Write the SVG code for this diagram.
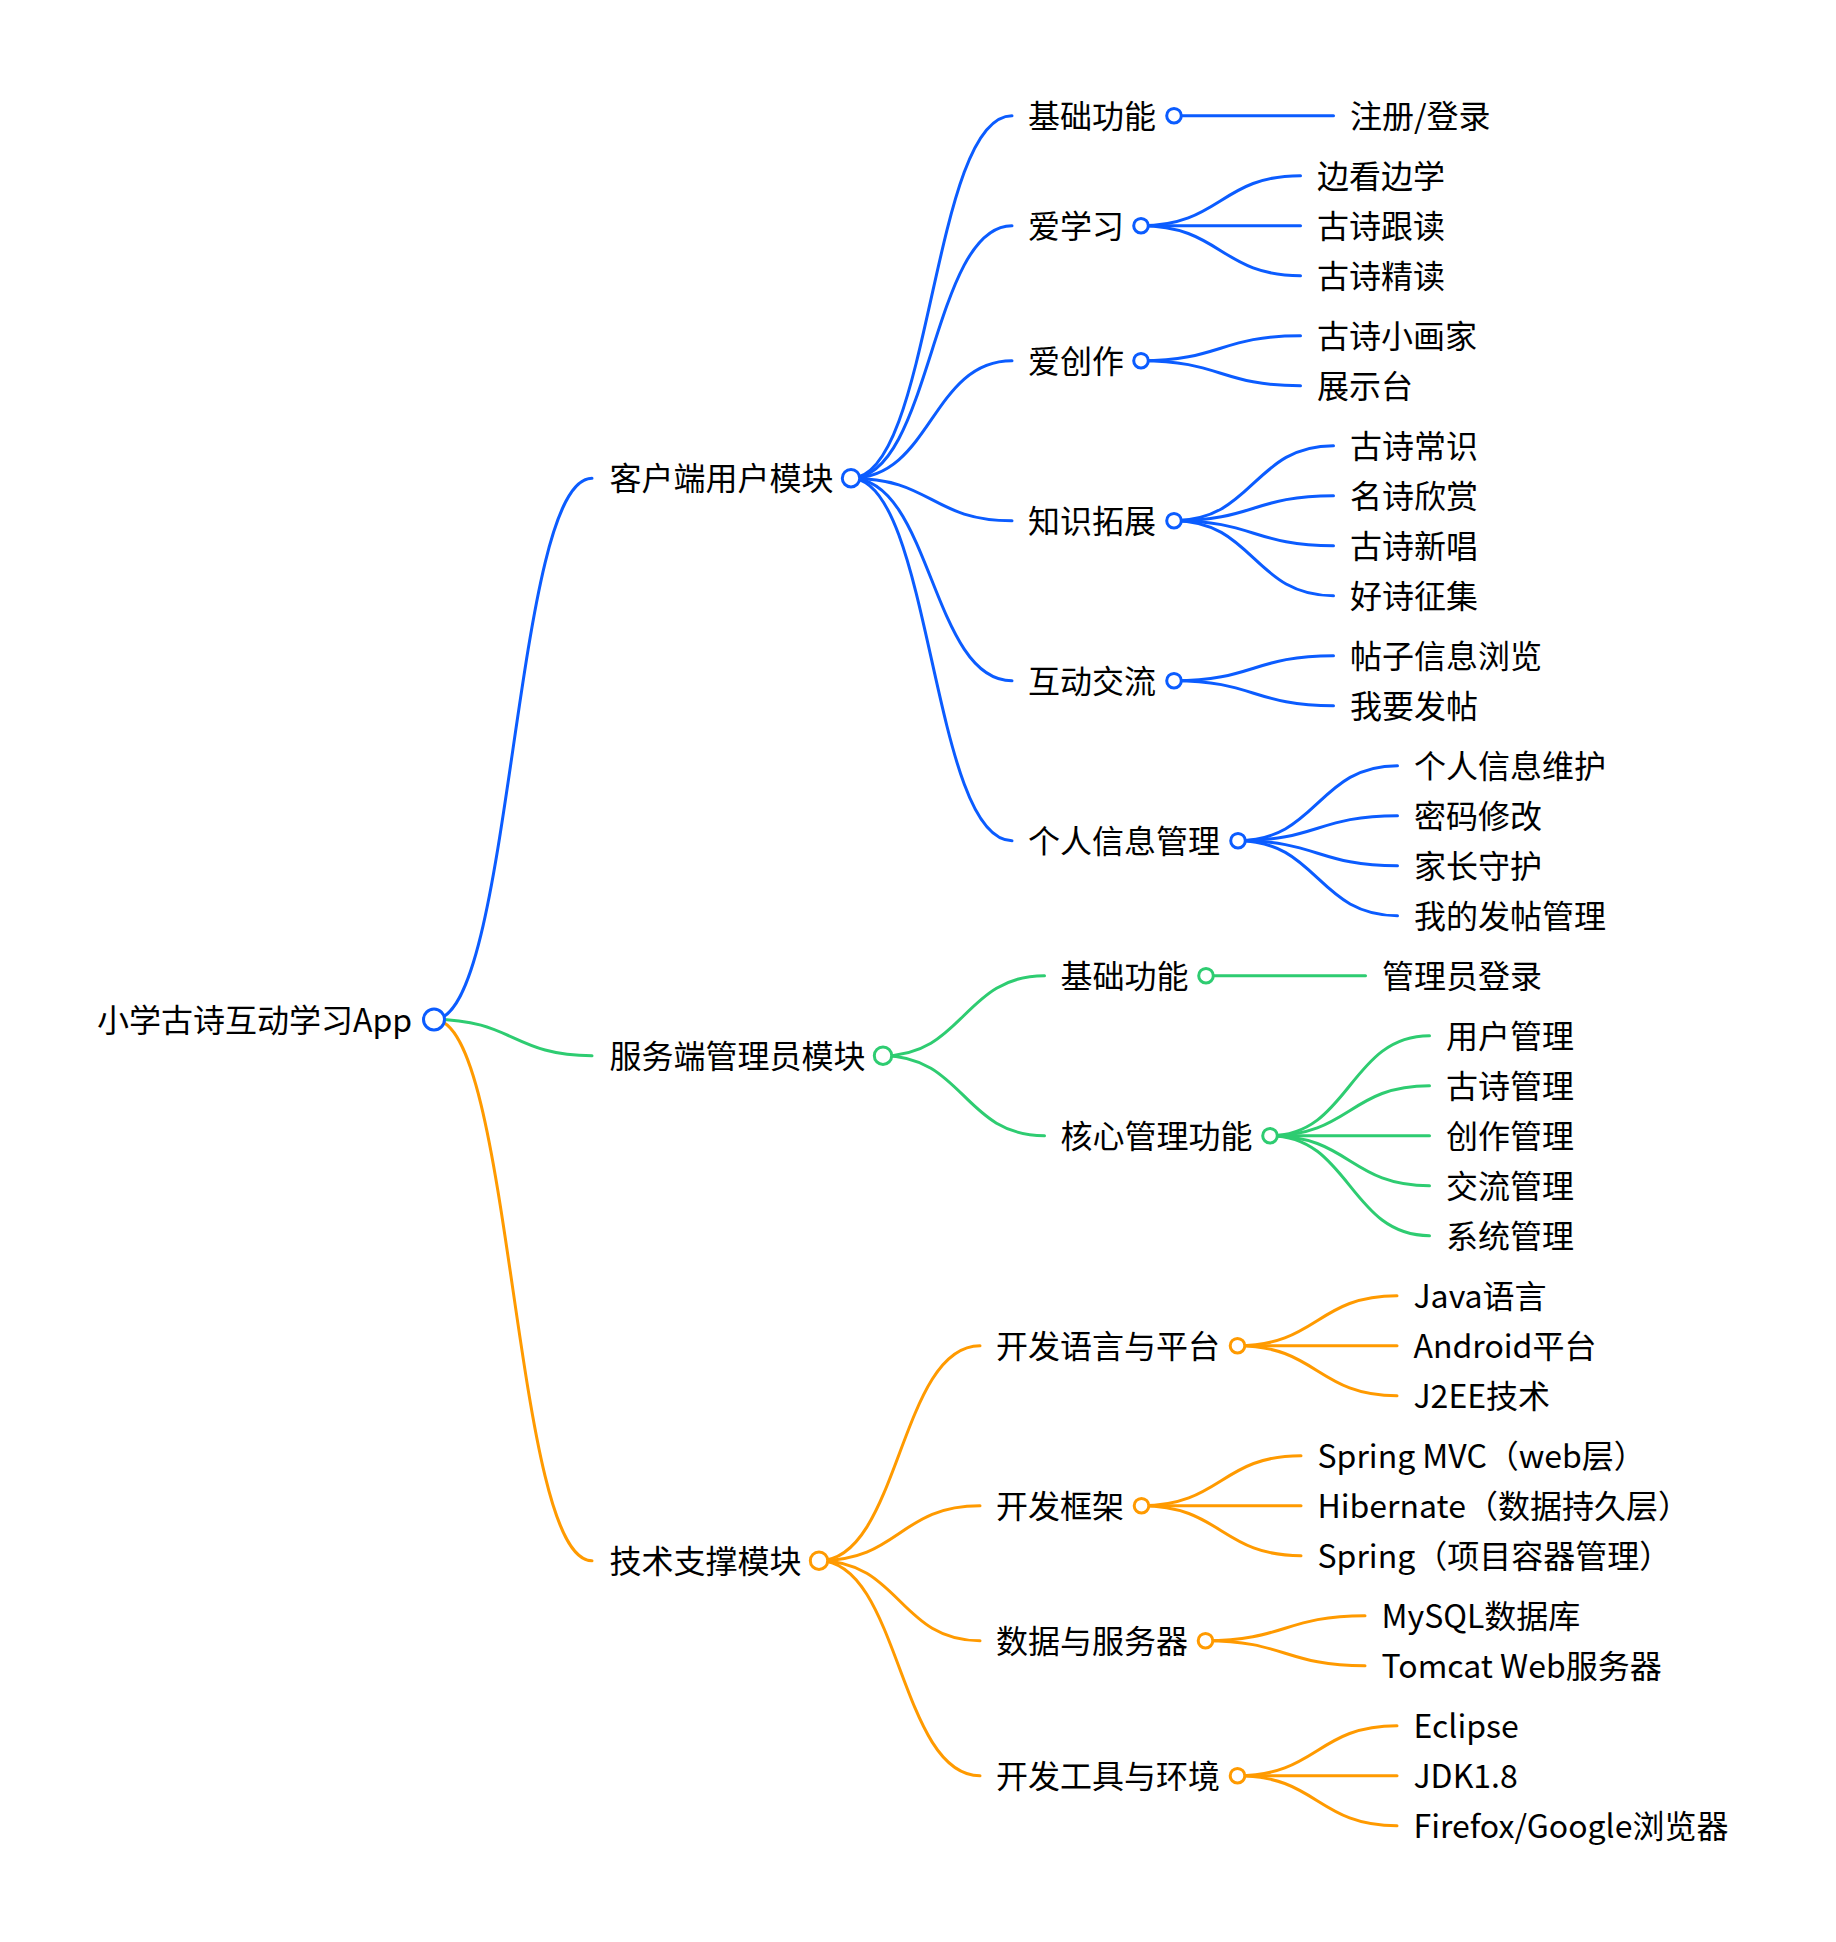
<svg xmlns="http://www.w3.org/2000/svg" width="1836" height="1942" viewBox="0 0 1836 1942">
<style>
text{font-family:"Noto Sans CJK SC","Microsoft YaHei",sans-serif;font-size:32px;fill:#000}
path{fill:none;stroke-width:3;stroke-linecap:round}
.b{stroke:#0b5cff}.g{stroke:#2ecc71}.o{stroke:#ff9a00}
circle{fill:#fff;stroke-width:3}
.r0{r:10.5}.r1{r:8.7}.r2{r:7.3}
</style>
<rect width="1836" height="1942" fill="#fff"/>
<g id="connectors">
<path class="b" d="M434,1019.5 C513,1019.5 513,478.2 592,478.2"/>
<path class="g" d="M434,1019.5 C513,1019.5 513,1055.7 592,1055.7"/>
<path class="o" d="M434,1019.5 C513,1019.5 513,1560.7 592,1560.7"/>
<path class="b" d="M851,478.2 C931.5,478.2 931.5,115.7 1012,115.7"/>
<path class="b" d="M851,478.2 C931.5,478.2 931.5,225.7 1012,225.7"/>
<path class="b" d="M851,478.2 C931.5,478.2 931.5,360.7 1012,360.7"/>
<path class="b" d="M851,478.2 C931.5,478.2 931.5,520.7 1012,520.7"/>
<path class="b" d="M851,478.2 C931.5,478.2 931.5,680.7 1012,680.7"/>
<path class="b" d="M851,478.2 C931.5,478.2 931.5,840.7 1012,840.7"/>
<path class="g" d="M883,1055.7 C963.7,1055.7 963.7,975.7 1044.5,975.7"/>
<path class="g" d="M883,1055.7 C963.7,1055.7 963.7,1135.7 1044.5,1135.7"/>
<path class="o" d="M819,1560.7 C899.5,1560.7 899.5,1345.7 980,1345.7"/>
<path class="o" d="M819,1560.7 C899.5,1560.7 899.5,1505.7 980,1505.7"/>
<path class="o" d="M819,1560.7 C899.5,1560.7 899.5,1640.7 980,1640.7"/>
<path class="o" d="M819,1560.7 C899.5,1560.7 899.5,1775.7 980,1775.7"/>
<path class="b" d="M1174,115.7 L1333.5,115.7"/>
<path class="b" d="M1141,225.7 C1220.7,225.7 1220.7,175.7 1300.5,175.7"/>
<path class="b" d="M1141,225.7 L1300.5,225.7"/>
<path class="b" d="M1141,225.7 C1220.7,225.7 1220.7,275.7 1300.5,275.7"/>
<path class="b" d="M1141,360.7 C1220.7,360.7 1220.7,335.7 1300.5,335.7"/>
<path class="b" d="M1141,360.7 C1220.7,360.7 1220.7,385.7 1300.5,385.7"/>
<path class="b" d="M1174,520.7 C1253.7,520.7 1253.7,445.7 1333.5,445.7"/>
<path class="b" d="M1174,520.7 C1253.7,520.7 1253.7,495.7 1333.5,495.7"/>
<path class="b" d="M1174,520.7 C1253.7,520.7 1253.7,545.7 1333.5,545.7"/>
<path class="b" d="M1174,520.7 C1253.7,520.7 1253.7,595.7 1333.5,595.7"/>
<path class="b" d="M1174,680.7 C1253.7,680.7 1253.7,655.7 1333.5,655.7"/>
<path class="b" d="M1174,680.7 C1253.7,680.7 1253.7,705.7 1333.5,705.7"/>
<path class="b" d="M1238,840.7 C1317.7,840.7 1317.7,765.7 1397.5,765.7"/>
<path class="b" d="M1238,840.7 C1317.7,840.7 1317.7,815.7 1397.5,815.7"/>
<path class="b" d="M1238,840.7 C1317.7,840.7 1317.7,865.7 1397.5,865.7"/>
<path class="b" d="M1238,840.7 C1317.7,840.7 1317.7,915.7 1397.5,915.7"/>
<path class="g" d="M1206,975.7 L1365.5,975.7"/>
<path class="g" d="M1270,1135.7 C1349.7,1135.7 1349.7,1035.7 1429.5,1035.7"/>
<path class="g" d="M1270,1135.7 C1349.7,1135.7 1349.7,1085.7 1429.5,1085.7"/>
<path class="g" d="M1270,1135.7 L1429.5,1135.7"/>
<path class="g" d="M1270,1135.7 C1349.7,1135.7 1349.7,1185.7 1429.5,1185.7"/>
<path class="g" d="M1270,1135.7 C1349.7,1135.7 1349.7,1235.7 1429.5,1235.7"/>
<path class="o" d="M1237.5,1345.7 C1317.2,1345.7 1317.2,1295.7 1397,1295.7"/>
<path class="o" d="M1237.5,1345.7 L1397,1345.7"/>
<path class="o" d="M1237.5,1345.7 C1317.2,1345.7 1317.2,1395.7 1397,1395.7"/>
<path class="o" d="M1141.5,1505.7 C1221.2,1505.7 1221.2,1455.7 1301,1455.7"/>
<path class="o" d="M1141.5,1505.7 L1301,1505.7"/>
<path class="o" d="M1141.5,1505.7 C1221.2,1505.7 1221.2,1555.7 1301,1555.7"/>
<path class="o" d="M1205.5,1640.7 C1285.2,1640.7 1285.2,1615.7 1365,1615.7"/>
<path class="o" d="M1205.5,1640.7 C1285.2,1640.7 1285.2,1665.7 1365,1665.7"/>
<path class="o" d="M1237.5,1775.7 C1317.2,1775.7 1317.2,1725.7 1397,1725.7"/>
<path class="o" d="M1237.5,1775.7 L1397,1775.7"/>
<path class="o" d="M1237.5,1775.7 C1317.2,1775.7 1317.2,1825.7 1397,1825.7"/>
</g>
<g id="root"><text x="97" y="1031.5">小学古诗互动学习App</text><circle class="r0" cx="434" cy="1019.5" r="10.5" stroke="#0b5cff"/></g>
<g id="n-client"><text x="609.5" y="490">客户端用户模块</text><circle class="r1" cx="851" cy="478.2" r="8.7" stroke="#0b5cff"/></g>
<g id="n-server"><text x="609.5" y="1067.7">服务端管理员模块</text><circle class="r1" cx="883" cy="1055.7" r="8.7" stroke="#2ecc71"/></g>
<g id="n-tech"><text x="609.5" y="1572.7">技术支撑模块</text><circle class="r1" cx="819" cy="1560.7" r="8.7" stroke="#ff9a00"/></g>
<g id="n-c1"><text x="1028" y="127.7">基础功能</text><circle cx="1174" cy="115.7" r="7.3" stroke="#0b5cff"/></g>
<g id="n-c2"><text x="1028" y="237.7">爱学习</text><circle cx="1141" cy="225.7" r="7.3" stroke="#0b5cff"/></g>
<g id="n-c3"><text x="1028" y="372.7">爱创作</text><circle cx="1141" cy="360.7" r="7.3" stroke="#0b5cff"/></g>
<g id="n-c4"><text x="1028" y="532.7">知识拓展</text><circle cx="1174" cy="520.7" r="7.3" stroke="#0b5cff"/></g>
<g id="n-c5"><text x="1028" y="692.7">互动交流</text><circle cx="1174" cy="680.7" r="7.3" stroke="#0b5cff"/></g>
<g id="n-c6"><text x="1028" y="852.7">个人信息管理</text><circle cx="1238" cy="840.7" r="7.3" stroke="#0b5cff"/></g>
<g id="n-s1"><text x="1060.5" y="987.7">基础功能</text><circle cx="1206" cy="975.7" r="7.3" stroke="#2ecc71"/></g>
<g id="n-s2"><text x="1060.5" y="1147.7">核心管理功能</text><circle cx="1270" cy="1135.7" r="7.3" stroke="#2ecc71"/></g>
<g id="n-t1"><text x="996" y="1357.7">开发语言与平台</text><circle cx="1237.5" cy="1345.7" r="7.3" stroke="#ff9a00"/></g>
<g id="n-t2"><text x="996" y="1517.7">开发框架</text><circle cx="1141.5" cy="1505.7" r="7.3" stroke="#ff9a00"/></g>
<g id="n-t3"><text x="996" y="1652.7">数据与服务器</text><circle cx="1205.5" cy="1640.7" r="7.3" stroke="#ff9a00"/></g>
<g id="n-t4"><text x="996" y="1787.7">开发工具与环境</text><circle cx="1237.5" cy="1775.7" r="7.3" stroke="#ff9a00"/></g>
<g id="l1"><text x="1350" y="127.7">注册/登录</text></g>
<g id="l2"><text x="1317" y="187.7">边看边学</text></g>
<g id="l3"><text x="1317" y="237.7">古诗跟读</text></g>
<g id="l4"><text x="1317" y="287.7">古诗精读</text></g>
<g id="l5"><text x="1317" y="347.7">古诗小画家</text></g>
<g id="l6"><text x="1317" y="397.7">展示台</text></g>
<g id="l7"><text x="1350" y="457.7">古诗常识</text></g>
<g id="l8"><text x="1350" y="507.7">名诗欣赏</text></g>
<g id="l9"><text x="1350" y="557.7">古诗新唱</text></g>
<g id="l10"><text x="1350" y="607.7">好诗征集</text></g>
<g id="l11"><text x="1350" y="667.7">帖子信息浏览</text></g>
<g id="l12"><text x="1350" y="717.7">我要发帖</text></g>
<g id="l13"><text x="1414" y="777.7">个人信息维护</text></g>
<g id="l14"><text x="1414" y="827.7">密码修改</text></g>
<g id="l15"><text x="1414" y="877.7">家长守护</text></g>
<g id="l16"><text x="1414" y="927.7">我的发帖管理</text></g>
<g id="l17"><text x="1382" y="987.7">管理员登录</text></g>
<g id="l18"><text x="1446" y="1047.7">用户管理</text></g>
<g id="l19"><text x="1446" y="1097.7">古诗管理</text></g>
<g id="l20"><text x="1446" y="1147.7">创作管理</text></g>
<g id="l21"><text x="1446" y="1197.7">交流管理</text></g>
<g id="l22"><text x="1446" y="1247.7">系统管理</text></g>
<g id="l23"><text x="1413.5" y="1307.7">Java语言</text></g>
<g id="l24"><text x="1413.5" y="1357.7">Android平台</text></g>
<g id="l25"><text x="1413.5" y="1407.7">J2EE技术</text></g>
<g id="l26"><text x="1317.5" y="1467.7">Spring MVC（web层）</text></g>
<g id="l27"><text x="1317.5" y="1517.7">Hibernate（数据持久层）</text></g>
<g id="l28"><text x="1317.5" y="1567.7">Spring（项目容器管理）</text></g>
<g id="l29"><text x="1381.5" y="1627.7">MySQL数据库</text></g>
<g id="l30"><text x="1381.5" y="1677.7">Tomcat Web服务器</text></g>
<g id="l31"><text x="1413.5" y="1737.7">Eclipse</text></g>
<g id="l32"><text x="1413.5" y="1787.7">JDK1.8</text></g>
<g id="l33"><text x="1413.5" y="1837.7">Firefox/Google浏览器</text></g>
</svg>
